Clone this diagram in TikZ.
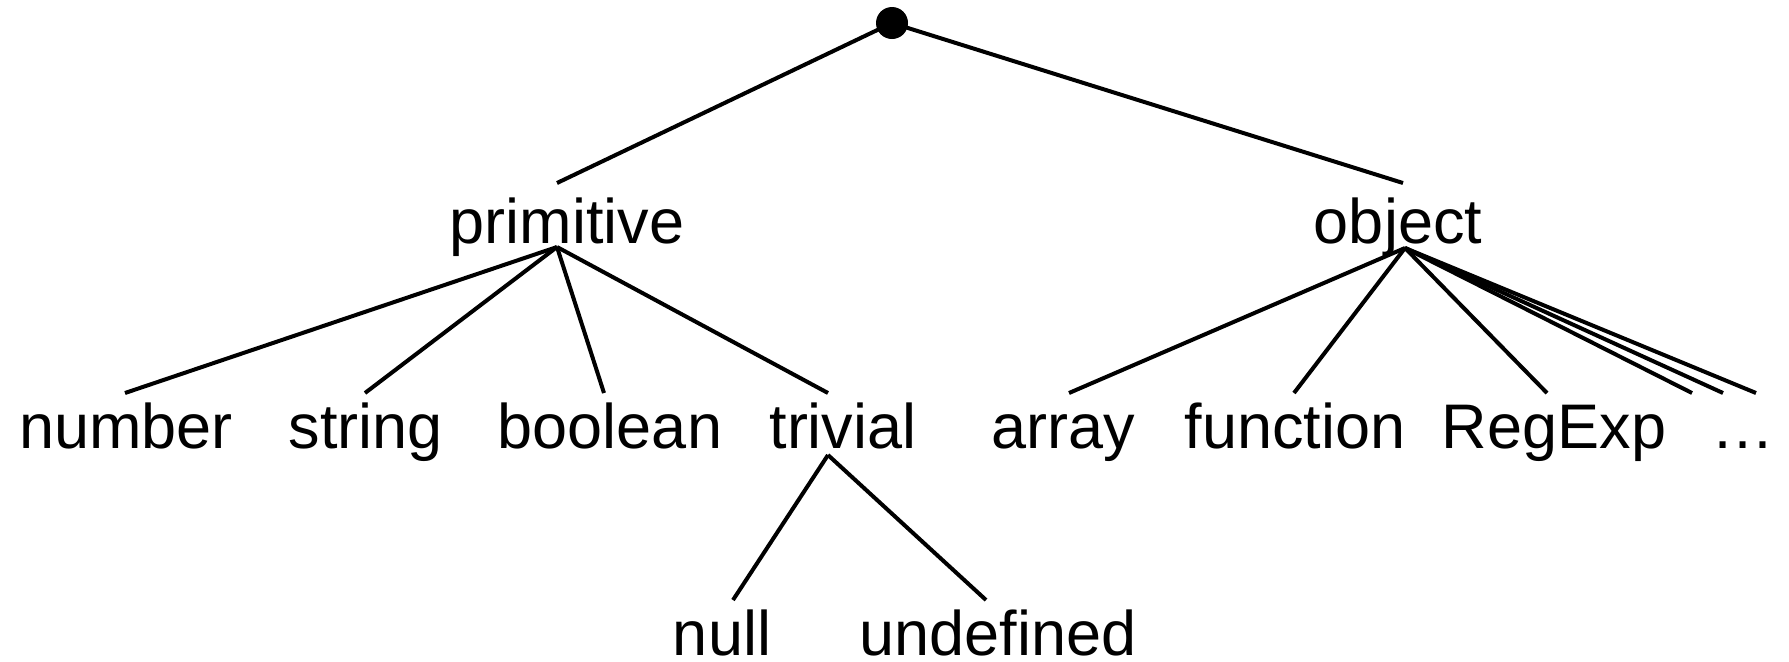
\documentclass[tikz,border=0pt]{standalone}
\usepackage{fontspec}
\setmainfont{Liberation Sans}

\tikzset{every picture/.style={line width=2pt}}
\tikzset{lbl/.style={inner sep=0pt, anchor=base, font=\fontsize{31.5}{38}\selectfont}}

\begin{document}
\begin{tikzpicture}[x=0.5pt,y=0.5pt,yscale=-1]
	\useasboundingbox (0,0) rectangle (1789,661);

	% Root dot
	\node [circle, fill=black, inner sep=0pt, minimum size=16pt] (root) at (892,23) {};

	% Text Node
	\node [lbl] (primitive) at (567,243) {primitive};
	% Text Node
	\node [lbl] (object) at (1398,243) {object};

	% Text Node
	\node [lbl] (number) at (126,448) {number};
	% Text Node
	\node [lbl] (string) at (366,448) {string};
	% Text Node
	\node [lbl] (boolean) at (610,448) {boolean};
	% Text Node
	\node [lbl] (trivial) at (843,448) {trivial};
	% Text Node
	\node [lbl] (array) at (1063,448) {array};
	% Text Node
	\node [lbl] (function) at (1295,448) {function};
	% Text Node
	\node [lbl] (regexp) at (1554,448) {RegExp};
	% Text Node
	\node [lbl] (more) at (1743,448) {…};

	% Text Node
	\node [lbl] (null) at (722,655) {null};
	% Text Node
	\node [lbl] (undefined) at (998,655) {undefined};

	% line ends
	\coordinate (prim-in) at (557,183);
	\coordinate (prim-out) at (557,247);
	\coordinate (obj-in) at (1403,183);
	\coordinate (obj-out) at (1405,248);
	\coordinate (number-in) at (125,393);
	\coordinate (string-in) at (365,393);
	\coordinate (boolean-in) at (604,393);
	\coordinate (trivial-in) at (828,393);
	\coordinate (trivial-out) at (828,455);
	\coordinate (array-in) at (1069,393);
	\coordinate (function-in) at (1294,393);
	\coordinate (regexp-in) at (1547,393);
	\coordinate (more-a) at (1692,393);
	\coordinate (more-b) at (1723,393);
	\coordinate (more-c) at (1756,393);
	\coordinate (null-in) at (733,600);
	\coordinate (undefined-in) at (986,600);

	% Straight Lines
	\draw (root.center) -- (prim-in);
	\draw (root.center) -- (obj-in);

	\draw (prim-out) -- (number-in);
	\draw (prim-out) -- (string-in);
	\draw (prim-out) -- (boolean-in);
	\draw (prim-out) -- (trivial-in);

	\draw (trivial-out) -- (null-in);
	\draw (trivial-out) -- (undefined-in);

	\draw (obj-out) -- (array-in);
	\draw (obj-out) -- (function-in);
	\draw (obj-out) -- (regexp-in);
	\draw (obj-out) -- (more-a);
	\draw (obj-out) -- (more-b);
	\draw (obj-out) -- (more-c);

\end{tikzpicture}
\end{document}
